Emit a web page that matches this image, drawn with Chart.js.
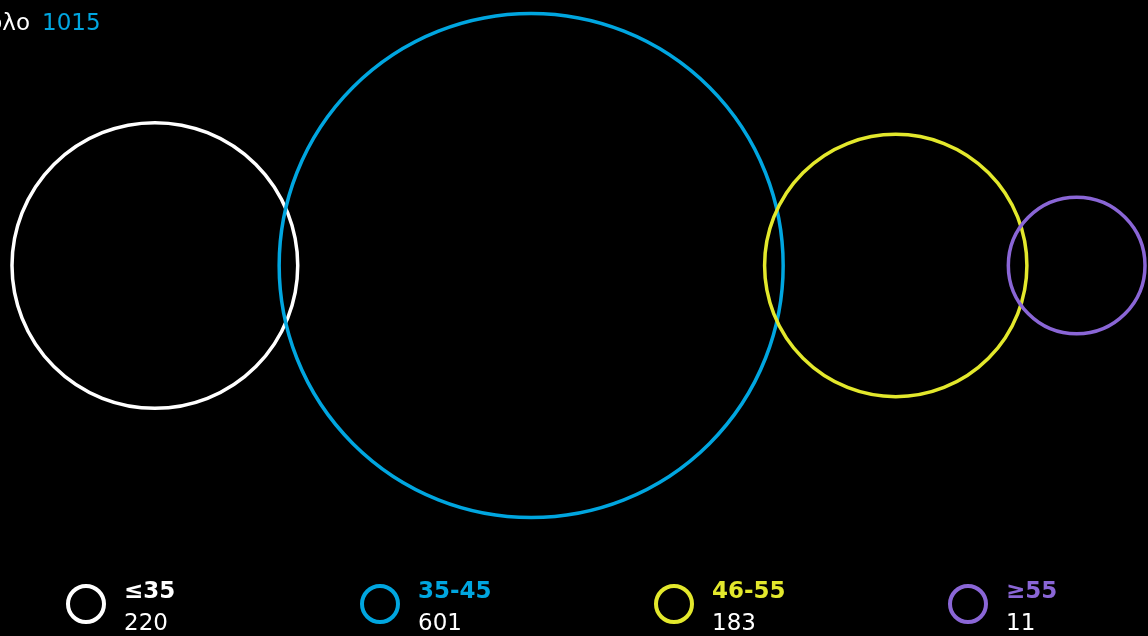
<!DOCTYPE html>
<html>
<head>
<meta charset="utf-8">
<script src="https://cdn.jsdelivr.net/npm/chart.js@4/dist/chart.umd.min.js"></script>
<style>
  html, body { margin: 0; padding: 0; background: #000; }
  #wrap { position: relative; width: 1148px; height: 636px; overflow: hidden; }
</style>
</head>
<body>
<div id="wrap"><canvas id="c"></canvas></div>
<script>
// Age groups and head counts
const categories = ['≤35', '35-45', '46-55', '≥55'];
const counts = [220, 601, 183, 11];
const totalLabel = 'Σύνολο';

// Styling
const ringColors = ['#ffffff', '#00a6e0', '#e3e82c', '#8a66d6'];
const labelColors = ['#ffffff', '#00a6e0', '#e3e82c', '#8a66d6'];
const FONT = '"DejaVu Sans", Verdana, sans-serif';

// Bubble radius from value (power scale)
const R_MIN = 62, R_MAX = 252, R_EXP = 0.85;
const maxCount = Math.max(...counts);
const radiusOf = v => R_MIN + (R_MAX - R_MIN) * Math.pow(v / maxCount, R_EXP);

// Bubbles are chained left to right, slightly overlapping, to fill the span
const SPAN_LEFT = 12, SPAN_RIGHT = 1145;
const radii = counts.map(radiusOf);
const diamSum = radii.reduce((a, r) => a + 2 * r, 0);
const overlap = (diamSum - (SPAN_RIGHT - SPAN_LEFT)) / (radii.length - 1);
const centers = [];
radii.forEach((r, i) => {
  if (i === 0) centers.push(SPAN_LEFT + r);
  else centers.push(centers[i - 1] + radii[i - 1] + r - overlap);
});

const points = counts.map((v, i) => ({ x: centers[i], y: 0, r: radiusOf(v), v }));
const total = counts.reduce((a, b) => a + b, 0);

// Title and legend drawn on top of the chart
const overlay = {
  id: 'overlay',
  afterDraw(chart) {
    const ctx = chart.ctx;
    ctx.save();
    ctx.textBaseline = 'alphabetic';
    // Title
    ctx.font = '23px ' + FONT;
    ctx.textAlign = 'right';
    ctx.fillStyle = '#ffffff';
    ctx.fillText(totalLabel, 30, 30);
    ctx.textAlign = 'left';
    ctx.fillStyle = '#00a6e0';
    ctx.fillText(String(total), 42, 30);

    // Legend
    categories.forEach((cat, i) => {
      const cx = 86 + i * 294, cy = 604;
      ctx.beginPath();
      ctx.arc(cx, cy, 18, 0, Math.PI * 2);
      ctx.lineWidth = 4;
      ctx.strokeStyle = ringColors[i];
      ctx.stroke();
      ctx.textAlign = 'left';
      ctx.font = 'bold 23px ' + FONT;
      ctx.fillStyle = labelColors[i];
      ctx.fillText(cat, cx + 38, 598);
      ctx.font = '23px ' + FONT;
      ctx.fillStyle = '#ffffff';
      ctx.fillText(String(counts[i]), cx + 38, 630);
    });
    ctx.restore();
  }
};

new Chart(document.getElementById('c'), {
  type: 'bubble',
  data: {
    datasets: [{
      data: points,
      backgroundColor: 'rgba(0,0,0,0)',
      borderColor: ringColors,
      borderWidth: 3.5,
      hoverBorderWidth: 3.5,
      clip: false
    }]
  },
  options: {
    responsive: true,
    maintainAspectRatio: false,
    animation: false,
    events: [],
    layout: { autoPadding: false, padding: { top: 0, left: 0, right: 0, bottom: 105 } },
    scales: {
      x: { type: 'linear', min: 0, max: 1148, display: false },
      y: { type: 'linear', min: -1, max: 1, display: false }
    },
    plugins: { legend: { display: false }, tooltip: { enabled: false } }
  },
  plugins: [overlay]
});
</script>
</body>
</html>
